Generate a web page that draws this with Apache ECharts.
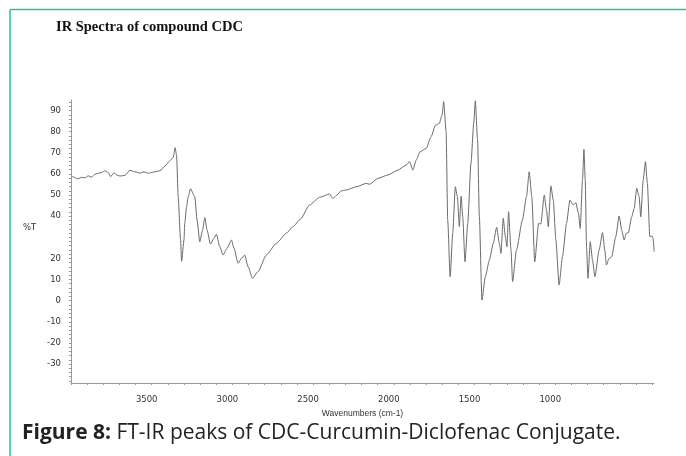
<!DOCTYPE html>
<html>
<head>
<meta charset="utf-8">
<script src="https://cdn.jsdelivr.net/npm/echarts@6/dist/echarts.min.js"></script>
<style>
  html, body { margin: 0; padding: 0; background: #fff; }
  #chart { width: 686px; height: 456px; }
</style>
</head>
<body>
<div id="chart"></div>
<script>
// wavenumbers (cm-1)
const wavenumbers = [
  3996, 3955, 3934, 3913, 3893, 3872, 3851, 3831, 3810, 3790, 3769, 3754, 3734, 3717, 3697, 3666,
  3635, 3604, 3573, 3548, 3522, 3480, 3449, 3418, 3388, 3367, 3355, 3346, 3336, 3321, 3315, 3300,
  3295, 3284, 3274, 3260, 3233, 3219, 3202, 3185, 3171, 3157, 3136, 3115, 3099, 3078, 3058, 3033,
  3006, 2990, 2965, 2944, 2924, 2903, 2876, 2841, 2790, 2728, 2666, 2625, 2578, 2522, 2460, 2398,
  2378, 2353, 2326, 2294, 2233, 2171, 2150, 2099, 2037, 1975, 1923, 1903, 1882, 1861, 1837, 1799,
  1769, 1742, 1718, 1701, 1691, 1676, 1666, 1651, 1635, 1619, 1606, 1594, 1583, 1573, 1559, 1542,
  1522, 1505, 1495, 1481, 1470, 1454, 1433, 1408, 1384, 1363, 1346, 1336, 1322, 1309, 1299, 1289,
  1274, 1264, 1240, 1203, 1178, 1161, 1145, 1127, 1103, 1089, 1068, 1054, 1043, 1027, 1012, 996,
  976, 955, 930, 909, 889, 872, 856, 845, 831, 822, 814, 806, 797, 783, 769, 754,
  728, 707, 693, 683, 666, 650, 625, 604, 588, 573, 559, 547, 526, 511, 495, 480,
  470, 455, 441, 429, 414, 401, 394, 387
];
// transmittance (%T)
const transmittance = [
  59.0, 57.7, 58.4, 58.2, 59.1, 58.4, 59.9, 60.3, 60.7, 61.5, 60.6, 58.7, 60.6, 59.5, 59.0, 59.3,
  61.7, 61.0, 60.4, 61.0, 60.3, 61.0, 61.5, 63.7, 66.2, 67.8, 72.4, 68.9, 49.2, 28.7, 18.6, 28.7,
  36.6, 44.5, 49.2, 53.0, 49.2, 38.2, 27.9, 33.4, 39.3, 33.4, 26.8, 29.5, 31.4, 25.5, 21.6, 24.8,
  28.7, 24.8, 17.7, 20.0, 21.6, 16.1, 10.6, 13.7, 21.6, 27.1, 31.9, 35.0, 38.6, 45.3, 48.9, 50.5,
  48.4, 50.0, 52.0, 52.4, 53.9, 55.5, 55.1, 57.9, 59.5, 61.8, 64.2, 65.8, 61.8, 66.6, 70.5, 72.1,
  77.6, 83.1, 83.9, 87.9, 94.2, 80.0, 38.0, 11.3, 31.9, 53.9, 49.2, 35.0, 49.5, 39.7, 18.4, 36.6,
  65.0, 83.9, 94.6, 76.0, 39.7, 0.3, 11.3, 19.2, 27.1, 34.7, 27.1, 22.4, 39.0, 30.3, 25.5, 42.1,
  24.0, 9.0, 24.0, 38.2, 49.2, 61.0, 49.2, 18.4, 36.6, 36.3, 50.0, 42.9, 35.0, 54.3, 47.6, 28.7,
  7.4, 20.8, 36.6, 47.6, 45.3, 46.4, 41.3, 34.2, 57.1, 71.6, 57.1, 25.5, 10.6, 27.9, 19.2, 11.3,
  24.0, 32.2, 24.0, 16.9, 20.0, 20.8, 30.3, 40.1, 33.4, 28.7, 31.9, 32.2, 39.7, 43.7, 53.2, 49.2,
  39.7, 57.1, 65.8, 55.5, 30.3, 30.6, 29.5, 23.2
];
// tick labels
const xLabels = [3500, 3000, 2500, 2000, 1500, 1000];
const yLabels = [-30, -20, -10, 0, 10, 20, 40, 50, 60, 70, 80, 90];

const xTicks = [];
for (let v = 4000; v >= 400; v -= 100) xTicks.push(v);
const yTicks = [];
for (let v = -38; v <= 94; v += 2) yTicks.push(v);

const chart = echarts.init(document.getElementById('chart'));

chart.setOption({
  backgroundColor: '#fff',
  animation: false,
  grid: { left: 71, right: 32, top: 100, bottom: 73 },
  xAxis: {
    type: 'value',
    inverse: true,
    min: 388,
    max: 4000,
    name: 'Wavenumbers (cm-1)',
    nameLocation: 'middle',
    nameGap: 19,
    nameTextStyle: { fontFamily: 'Liberation Sans', fontSize: 8.5, color: '#333' },
    axisLine: { onZero: false, lineStyle: { color: '#999', width: 1 } },
    axisTick: { show: true, customValues: xTicks, length: 2, lineStyle: { color: '#999' } },
    axisLabel: {
      customValues: xLabels,
      formatter: v => String(v),
      fontFamily: 'DejaVu Sans',
      fontSize: 8.5,
      color: '#333',
      margin: 12,
      padding: [0, 10, 0, 0]
    },
    splitLine: { show: false }
  },
  yAxis: {
    type: 'value',
    min: -39,
    max: 95,
    axisLine: { show: true, lineStyle: { color: '#999', width: 1 } },
    axisTick: { show: true, customValues: yTicks, length: 2, lineStyle: { color: '#999' } },
    axisLabel: {
      customValues: yLabels,
      formatter: v => String(v),
      fontFamily: 'DejaVu Sans',
      fontSize: 8.5,
      color: '#333',
      margin: 10
    },
    splitLine: { show: false }
  },
  series: [{
    type: 'line',
    data: wavenumbers.map((w, i) => [w, transmittance[i]]),
    showSymbol: false,
    smooth: 0.2,
    smoothMonotone: 'x',
    lineStyle: { color: '#6a6a6a', width: 1 }
  }],
  graphic: [
    { type: 'line', shape: { x1: 10, y1: 9.5, x2: 686, y2: 9.5 }, style: { stroke: '#2cbfa3', lineWidth: 1.5 } },
    { type: 'line', shape: { x1: 10, y1: 9.5, x2: 10, y2: 456 }, style: { stroke: '#2cbfa3', lineWidth: 1.5 } },
    {
      type: 'text', left: 56, top: 20,
      style: { text: 'IR Spectra of compound CDC', font: 'bold 14.5px "Liberation Serif"', fill: '#111' }
    },
    {
      type: 'text', left: 23, top: 223,
      style: { text: '%T', font: '8.5px "DejaVu Sans"', fill: '#333' }
    },
    {
      type: 'text', left: 22, top: 423,
      style: {
        text: '{b|Figure 8:} FT-IR peaks of CDC-Curcumin-Diclofenac Conjugate.',
        font: '21px "Open Sans"',
        fill: '#222',
        rich: {
          b: { fontFamily: 'Open Sans', fontSize: 21, fontWeight: 'bold', fill: '#222' }
        }
      }
    }
  ]
});
</script>
</body>
</html>
